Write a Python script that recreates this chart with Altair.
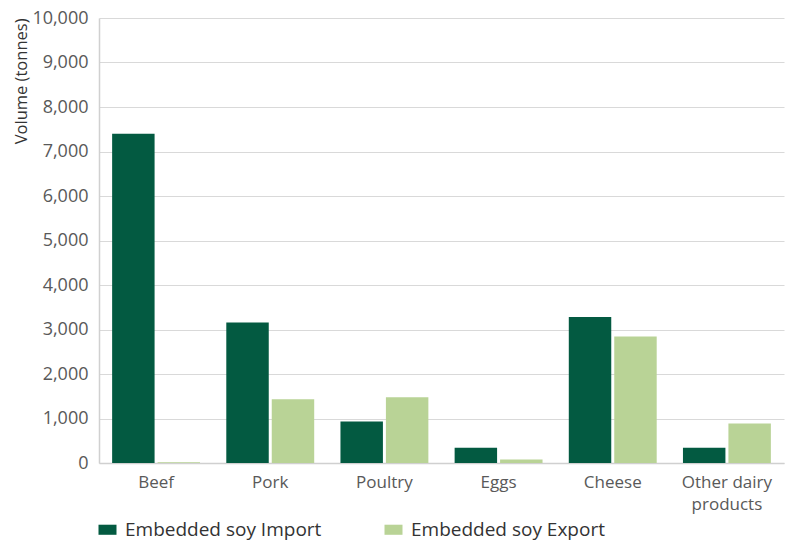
import altair as alt
import pandas as pd

categories = ["Beef", "Pork", "Poultry", "Eggs", "Cheese", "Other dairy products"]
series = ["Embedded soy Import", "Embedded soy Export"]
import_vals = [7400, 3160, 930, 340, 3280, 340]
export_vals = [15, 1430, 1480, 80, 2840, 890]
y_ticks = list(range(0, 10001, 1000))
colors = ["#035A41", "#B9D396"]

rows = []
for c, i, e in zip(categories, import_vals, export_vals):
    rows.append({"Category": c, "Series": series[0], "Value": i})
    rows.append({"Category": c, "Series": series[1], "Value": e})
df = pd.DataFrame(rows)

font = "Open Sans"

chart = alt.Chart(df).mark_bar().encode(
    x=alt.X(
        "Category:N", sort=categories,
        scale=alt.Scale(paddingInner=0.23, paddingOuter=0.115),
        axis=alt.Axis(
            title=None, labelAngle=0, labelPadding=11, labelFontSize=17,
            labelColor="#595959", labelFont=font, ticks=False,
            domainColor="#d0d0d0", domainWidth=1.5,
            labelExpr="datum.value == 'Other dairy products' ? ['Other dairy', 'products'] : datum.value",
            labelLineHeight=22,
        ),
    ),
    xOffset=alt.XOffset("Series:N", sort=series, scale=alt.Scale(paddingInner=0.066)),
    y=alt.Y(
        "Value:Q",
        scale=alt.Scale(domain=[0, 10000], nice=False),
        axis=alt.Axis(
            values=y_ticks, format=",.0f", title="Volume (tonnes)", titleFont=font,
            titleFontSize=16.5, titleFontWeight="normal", titleColor="#333333",
            titleAnchor="end", titlePadding=2, labelFont=font, labelFontSize=18,
            labelColor="#595959", labelPadding=11, ticks=False,
            domainColor="#d0d0d0", domainWidth=1.5, gridColor="#d9d9d9", gridWidth=1.2,
        ),
    ),
    color=alt.Color(
        "Series:N", sort=series,
        scale=alt.Scale(domain=series, range=colors),
        legend=alt.Legend(
            title=None, orient="none", legendX=-1, legendY=502, direction="horizontal",
            symbolType="M-1,-0.56H1V0.56H-1Z", symbolSize=324, symbolStrokeWidth=0,
            labelFont=font, labelFontSize=19, labelColor="#333333", labelLimit=400,
            columnPadding=62, labelOffset=8,
        ),
    ),
).properties(
    width=685, height=445,
    padding={"left": 91, "top": 10, "right": 7, "bottom": 78},
    autosize=alt.AutoSizeParams(type="none"),
).configure_view(stroke=None)

chart.save("out.html", embed_options={"renderer": "svg", "actions": False})
